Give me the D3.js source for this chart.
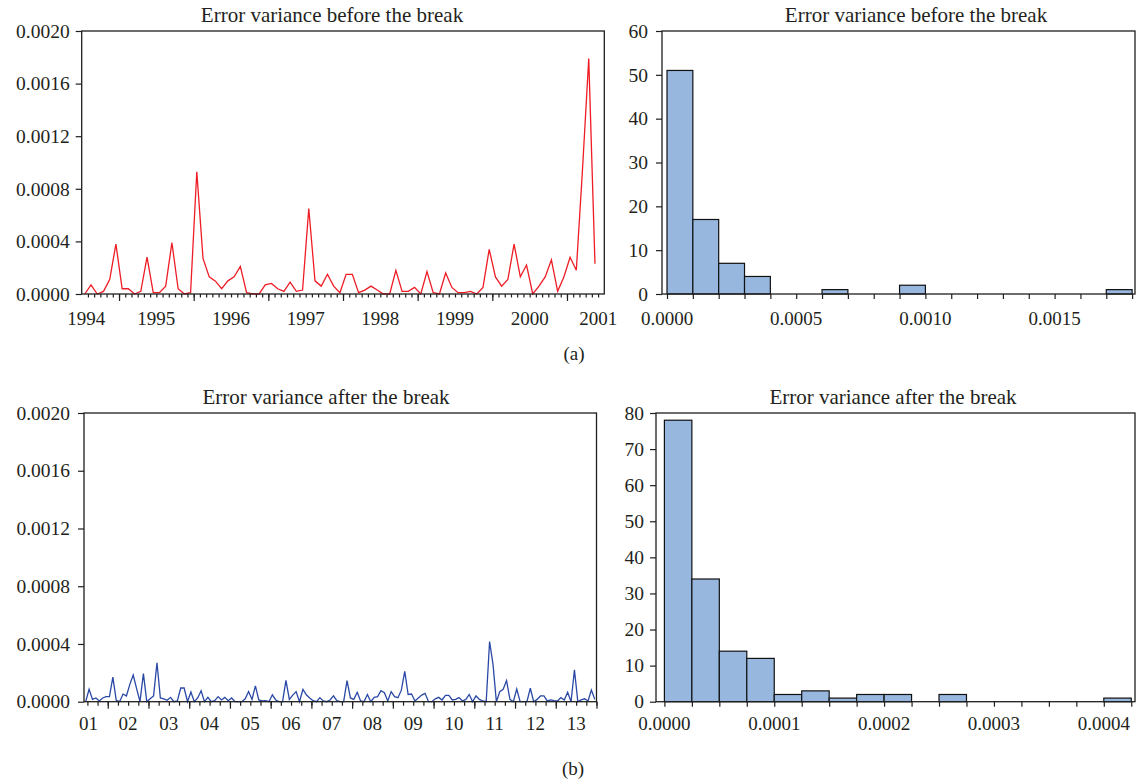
<!DOCTYPE html>
<html>
<head>
<meta charset="utf-8">
<script src="https://cdn.jsdelivr.net/npm/d3@7"></script>
<style>
  html, body { margin: 0; padding: 0; background: #ffffff; }
  svg { display: block; }
  text { font-family: "Liberation Serif", "Times New Roman", serif; fill: #231f20; }
</style>
</head>
<body>
<svg id="chart" width="1137" height="784"></svg>
<script>
// ---------------- DATA ----------------
// Monthly error variance before the break: 1994M07 .. 2001M05 (83 obs)
const beforeStart = { year: 1994, month: 7 };
const beforeValues = [
  0.0, 0.00007, 0.0, 0.00002, 0.00011, 0.00038, 0.00004, 0.00004, 0.0, 0.00002,
  0.00028, 0.00001, 0.00001, 0.00006, 0.00039, 0.00004, 0.0, 0.00001, 0.00093, 0.00027,
  0.00013, 0.000098, 0.00004, 0.0001, 0.00013, 0.00021, 0.00001, 0.0, 0.0, 0.00007,
  0.00008, 0.00004, 0.00002, 0.00009, 0.00002, 0.00003, 0.00065, 0.0001, 0.00006, 0.00015,
  0.00006, 0.00001, 0.00015, 0.00015, 0.00001, 0.00003, 0.00006, 0.00003, 0.0, 0.0,
  0.00018, 0.00002, 0.00002, 0.00005, 0.0, 0.00017, 0.00001, 0.0, 0.00016, 0.00005,
  0.00001, 0.00001, 0.00002, 0.0, 0.00005, 0.00034, 0.00013, 0.00006, 0.00011, 0.00038,
  0.00013, 0.00022, 0.0, 0.00006, 0.00013, 0.00026, 0.00002, 0.00013, 0.00028, 0.00018,
  0.00095, 0.00179, 0.00023
];
const beforeYearLabels = ["1994", "1995", "1996", "1997", "1998", "1999", "2000", "2001"];

// Monthly error variance after the break: 2001M06 .. 2013M12 (151 obs)
const afterStart = { year: 2001, month: 6 };
const afterValues = [
  0.0, 0.000086, 0.000016, 0.000026, 0.000005, 0.000026, 0.000035, 0.000035, 0.00017, 0.00001,
  0.0, 0.000053, 0.00004, 0.00012, 0.000185, 0.00009, 0.0, 0.000195, 0.0, 0.00002,
  0.00004, 0.00027, 0.000026, 0.00002, 0.00001, 0.00003, 0.0, 0.000005, 0.000095, 0.000095,
  0.0, 0.000067, 0.0, 0.000026, 0.000076, 0.0, 0.00003, 0.0, 0.000007, 0.000035,
  0.000012, 0.00003, 0.000007, 0.000026, 0.0, 0.0, 0.0, 0.00002, 0.00007, 0.000016,
  0.00011, 0.000012, 0.000005, 0.000007, 0.0, 0.000048, 0.000012, 0.0, 0.0, 0.000148,
  0.000016, 0.000046, 0.00007, 0.0, 0.000086, 0.000048, 0.000026, 0.000007, 0.0, 0.000028,
  0.000005, 0.0, 0.000012, 0.00004, 0.000007, 0.0, 0.0, 0.000146, 0.000026, 0.000016,
  0.000065, 0.000005, 0.0, 0.00005, 0.0, 0.00003, 0.000035, 0.000076, 0.000062, 0.000005,
  0.00007, 0.000035, 0.000028, 0.00008, 0.00021, 0.00005, 0.000053, 0.000005, 0.000026, 0.000046,
  0.000058, 0.0, 0.0, 0.00002, 0.00003, 0.000012, 0.000044, 0.000044, 0.000012, 0.000016,
  0.000028, 0.000005, 0.000016, 0.00005, 0.0, 0.00004, 0.000016, 0.000005, 0.0, 0.000417,
  0.00026, 0.0, 0.00007, 0.000086, 0.000146, 0.000016, 0.0, 0.000088, 0.0, 0.0,
  0.0, 0.000093, 0.0, 0.000016, 0.00004, 0.00004, 0.000005, 0.000012, 0.000007, 0.000005,
  0.000028, 0.000012, 0.000065, 0.0, 0.00022, 0.0, 0.000012, 0.00002, 0.000005, 0.000081,
  0.000016
];
const afterYearLabels = ["01", "02", "03", "04", "05", "06", "07", "08", "09", "10", "11", "12", "13"];

const lineYTicks = [0, 0.0004, 0.0008, 0.0012, 0.0016, 0.0020];

// Histogram before the break: bin width 0.0001 starting at 0
const histBeforeBinWidth = 0.0001;
const histBeforeCounts = [51, 17, 7, 4, 0, 0, 1, 0, 0, 2, 0, 0, 0, 0, 0, 0, 0, 1];
const histBeforeYTicks = [0, 10, 20, 30, 40, 50, 60];
const histBeforeXLabels = [0, 0.0005, 0.0010, 0.0015];

// Histogram after the break: bin width 0.000025 starting at 0
const histAfterBinWidth = 0.000025;
const histAfterCounts = [78, 34, 14, 12, 2, 3, 1, 2, 2, 0, 2, 0, 0, 0, 0, 0, 1];
const histAfterYTicks = [0, 10, 20, 30, 40, 50, 60, 70, 80];
const histAfterXLabels = [0, 0.0001, 0.0002, 0.0003, 0.0004];

const titleBefore = "Error variance before the break";
const titleAfter = "Error variance after the break";

// ---------------- DRAW ----------------
const svg = d3.select("#chart");
const fmt4 = d3.format(".4f");
const FRAME = "#1f1f1f";

function frame(x0, x1, y0, y1) {
  svg.append("rect").attr("x", x0).attr("y", y0)
    .attr("width", x1 - x0).attr("height", y1 - y0)
    .attr("fill", "none").attr("stroke", FRAME).attr("stroke-width", 1.3);
}
function styleAxis(g, fs) {
  g.select(".domain").remove();
  g.selectAll(".tick line").attr("stroke", FRAME).attr("stroke-width", 1.2);
  g.selectAll(".tick text").attr("font-size", fs).attr("fill", "#231f20")
    .attr("font-family", '"Liberation Serif", "Times New Roman", serif');
}

// Generic line panel
function linePanel(opt) {
  const x = d3.scaleLinear().domain(opt.xDomain).range([opt.left, opt.right]);
  const y = d3.scaleLinear().domain([0, 0.002]).range([opt.bottom, opt.top]);

  const gy = svg.append("g").attr("transform", `translate(${opt.left},0)`)
    .call(d3.axisLeft(y).tickValues(lineYTicks).tickFormat(fmt4).tickSize(6).tickPadding(opt.yPad));
  styleAxis(gy, 19.5);

  const gMinor = svg.append("g").attr("transform", `translate(0,${opt.bottom})`)
    .call(d3.axisBottom(x).tickValues(opt.minorTicks).tickFormat("").tickSize(opt.minorLen));
  styleAxis(gMinor, 19);
  const gMajor = svg.append("g").attr("transform", `translate(0,${opt.bottom})`)
    .call(d3.axisBottom(x).tickValues(opt.majorTicks).tickFormat("").tickSize(7));
  styleAxis(gMajor, 19);

  svg.append("g").selectAll("text").data(opt.labels).join("text")
    .attr("x", d => Math.max(opt.left + 4.5, Math.min(opt.right - 6, x(d.center))))
    .attr("y", opt.labelY)
    .attr("text-anchor", "middle")
    .attr("font-size", 19)
    .text(d => d.text);

  const line = d3.line().x((d, i) => x(i)).y(d => y(d));
  svg.append("path").datum(opt.values)
    .attr("d", line).attr("fill", "none")
    .attr("stroke", opt.color).attr("stroke-width", 1.3)
    .attr("stroke-linejoin", "miter");

  frame(opt.left, opt.right, opt.top, opt.bottom);

  svg.append("text").attr("x", opt.titleX).attr("y", opt.top - 9)
    .attr("text-anchor", "middle").attr("font-size", 21).text(opt.title);
}

// Generic histogram panel
function histPanel(opt) {
  const x = d3.scaleLinear().domain([0, opt.xMax]).range([opt.x0, opt.x1]);
  const y = d3.scaleLinear().domain([0, opt.yMax]).range([opt.bottom, opt.top]);

  const bins = opt.counts.map((c, i) => ({ lo: i * opt.binWidth, hi: (i + 1) * opt.binWidth, c }))
    .filter(b => b.c > 0);

  svg.append("g").selectAll("rect").data(bins).join("rect")
    .attr("x", d => x(d.lo)).attr("width", d => x(d.hi) - x(d.lo))
    .attr("y", d => y(d.c)).attr("height", d => y(0) - y(d.c))
    .attr("fill", "#98b7df").attr("stroke", "#111").attr("stroke-width", 1.2);

  const gy = svg.append("g").attr("transform", `translate(${opt.left},0)`)
    .call(d3.axisLeft(y).tickValues(opt.yTicks).tickFormat(d3.format("d")).tickSize(6).tickPadding(opt.yPad));
  styleAxis(gy, 19.5);

  const xt = d3.range(0, opt.counts.length + 1).map(i => i * opt.binWidth);
  const gx = svg.append("g").attr("transform", `translate(0,${opt.bottom})`)
    .call(d3.axisBottom(x).tickValues(xt).tickFormat("").tickSize(5));
  styleAxis(gx, 19);

  svg.append("g").selectAll("text").data(opt.xLabels).join("text")
    .attr("x", d => x(d)).attr("y", opt.labelY)
    .attr("text-anchor", "middle").attr("font-size", 19)
    .text(d => fmt4(d));

  frame(opt.left, opt.right, opt.top, opt.bottom);

  svg.append("text").attr("x", opt.titleX).attr("y", opt.top - 9)
    .attr("text-anchor", "middle").attr("font-size", 21).text(opt.title);
}

// ---- Panel (a) left: before the break ----
{
  const n = beforeValues.length;
  const firstBoundary = 12 - beforeStart.month + 0.5;
  const majors = d3.range(firstBoundary, n, 12);
  const minors = d3.range(0.5, n, 1);
  const labels = beforeYearLabels.map((t, k) => ({ text: t, center: firstBoundary + 12 * (k - 1) + 6 }));
  linePanel({
    values: beforeValues, xDomain: [-0.5, n + 0.5],
    left: 81.7, right: 604.3, top: 31, bottom: 294,
    majorTicks: majors, minorTicks: minors, minorLen: 3.5,
    labels, labelY: 325, yPad: 6, color: "#ee1c25",
    title: titleBefore, titleX: 332
  });
}

// ---- Panel (a) right: histogram before ----
histPanel({
  counts: histBeforeCounts, binWidth: histBeforeBinWidth,
  xMax: 0.0018, x0: 667, x1: 667 + 0.0018 / 0.0001 * 25.84,
  left: 662, right: 1135, top: 31, bottom: 294, yMax: 60,
  yTicks: histBeforeYTicks, xLabels: histBeforeXLabels, yPad: 8, labelY: 325,
  title: titleBefore, titleX: 916
});

// ---- Panel (b) left: after the break ----
{
  const n = afterValues.length;
  const firstBoundary = 12 - afterStart.month + 0.5;
  const majors = d3.range(firstBoundary, n, 12);
  const minors = d3.range(firstBoundary - 6, n, 3);
  const labels = afterYearLabels.map((t, k) => ({ text: t, center: firstBoundary + 12 * (k - 1) + 6 }));
  linePanel({
    values: afterValues, xDomain: [-0.5, n - 0.5],
    left: 84, right: 596.5, top: 413, bottom: 701.7,
    majorTicks: majors, minorTicks: minors, minorLen: 4,
    labels, labelY: 730, yPad: 8, color: "#2a48a6",
    title: titleAfter, titleX: 326
  });
}

// ---- Panel (b) right: histogram after ----
histPanel({
  counts: histAfterCounts, binWidth: histAfterBinWidth,
  xMax: 0.0004, x0: 664.4, x1: 1103.8,
  left: 656, right: 1135, top: 413, bottom: 701.7, yMax: 80,
  yTicks: histAfterYTicks, xLabels: histAfterXLabels, yPad: 6, labelY: 730,
  title: titleAfter, titleX: 893
});

// panel captions
svg.append("text").attr("x", 574).attr("y", 360).attr("text-anchor", "middle").attr("font-size", 19).text("(a)");
svg.append("text").attr("x", 573).attr("y", 775).attr("text-anchor", "middle").attr("font-size", 19).text("(b)");
</script>
</body>
</html>
